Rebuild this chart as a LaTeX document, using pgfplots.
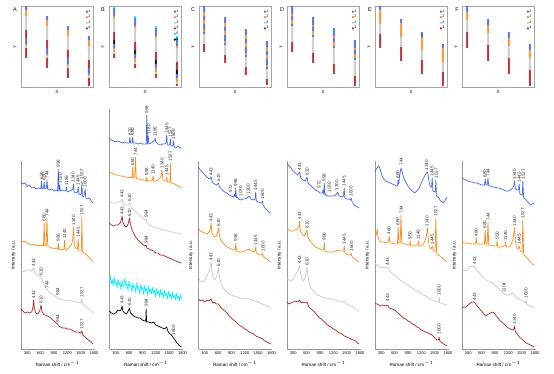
\documentclass[border=0pt]{standalone}
\usepackage{pgfplots}
\pgfplotsset{compat=1.18}
\usepackage{fontspec}
\setmainfont{Liberation Sans}
\definecolor{cb}{RGB}{68,102,245}
\definecolor{co}{RGB}{255,140,26}
\definecolor{cg}{RGB}{200,200,200}
\definecolor{cr}{RGB}{178,34,40}
\definecolor{cc}{RGB}{0,238,255}
\definecolor{ck}{RGB}{0,0,0}
\tikzset{pk/.style={rotate=90, anchor=west, inner sep=0.3pt, font=\fontsize{4.6}{5}\selectfont, text=black!80}}
\newcommand{\pk}[3]{\node[pk] at (axis cs:#1,-#2) {#3};}
\pgfplotsset{
  dotleg/.style={legend image code/.code={\draw[##1] plot coordinates {(1.5pt,0pt)};}},
  topax/.style={scale only axis, width=72pt, height=81pt, xmin=0.75, xmax=4.2, ymin=-87, ymax=-6,
    xtick=\empty, ytick=\empty, axis line style={black!35, line width=0.7pt}, anchor=south west,
    xlabel={X}, ylabel={Y},
    every axis x label/.style={at={(axis description cs:0.5,0)}, anchor=center, yshift=-5pt, font=\fontsize{4.5}{5}\selectfont},
    every axis y label/.style={at={(axis description cs:0,0.5)}, anchor=center, xshift=-6pt, rotate=90, font=\fontsize{4.5}{5}\selectfont},
    legend style={at={(axis description cs:0.98,0.97)}, anchor=north east, draw=none, fill=none,
      font=\fontsize{3.6}{4}\selectfont, row sep=0.6pt, inner sep=0.5pt, nodes={inner sep=0.5pt}},
    legend cell align=left,
    every axis plot/.append style={only marks, mark=*, mark size=0.95pt, dotleg}},
  specax/.style={scale only axis, width=73pt, xmin=160, xmax=1800, ymin=-349, anchor=south west,
    axis x line=bottom, axis y line=left, axis line style={-, black!40, line width=0.6pt},
    xtick={300,600,900,1200,1500,1800}, ytick=\empty, tick style={black!40}, major tick length=1pt, tick align=outside,
    /pgf/number format/1000 sep={}, /pgf/number format/assume math mode=true,
    xticklabel style={font=\fontsize{4}{4}\selectfont, inner sep=1pt},
    clip=false, no markers,
    every axis plot/.append style={line width=0.7pt, line join=round},
    xlabel={Raman shift / cm$^{-1}$}, ylabel={Intensity / a.u.},
    every axis x label/.style={at={(axis description cs:0.5,0)}, anchor=center, yshift=-14.5pt, font=\fontsize{4.6}{5}\selectfont},
    every axis y label/.style={at={(axis description cs:0,0.5)}, anchor=center, xshift=-7.5pt, rotate=90, font=\fontsize{4.6}{5}\selectfont}}
}
\begin{document}
\begin{tikzpicture}
\useasboundingbox (0pt,0pt) rectangle (554pt,-373pt);
%%%%%%%%%%%%%%%% TOP PANELS
% A
\begin{axis}[topax, at={(21pt,-87pt)}]
\addplot[cb] coordinates {(1,-7)(1,-9)(1,-39)(1,-41)(1,-43)(2,-17)(2,-19)(2,-49)(2,-51)(2,-53)(3,-27)(3,-29)(3,-59)(3,-61)(3,-63)(4,-37)(4,-39)(4,-69)(4,-71)(4,-73)};
\addplot[co] coordinates {(1,-11)(1,-13)(1,-15)(1,-45)(2,-21)(2,-23)(2,-25)(2,-55)(3,-31)(3,-33)(3,-35)(3,-65)(4,-41)(4,-43)(4,-45)(4,-75)};
\addplot[cg] coordinates {(1,-17)(1,-19)(1,-21)(1,-23)(1,-25)(1,-27)(1,-29)(1,-47)(2,-27)(2,-29)(2,-31)(2,-33)(2,-35)(2,-37)(2,-39)(2,-57)(3,-37)(3,-39)(3,-41)(3,-43)(3,-45)(3,-47)(3,-49)(3,-67)(4,-47)(4,-49)(4,-51)(4,-53)(4,-55)(4,-57)(4,-59)(4,-77)};
\addplot[cr] coordinates {(1,-31)(1,-33)(1,-35)(1,-37)(1,-49)(1,-51)(1,-53)(1,-55)(1,-57)(2,-41)(2,-43)(2,-45)(2,-47)(2,-59)(2,-61)(2,-63)(2,-65)(2,-67)(3,-51)(3,-53)(3,-55)(3,-57)(3,-69)(3,-71)(3,-73)(3,-75)(3,-77)(4,-61)(4,-63)(4,-65)(4,-67)(4,-79)(4,-81)(4,-83)(4,-85)};
\legend{1,2,3,4}
\end{axis}
% B
\begin{axis}[topax, at={(109pt,-87pt)}]
\addplot[cb] coordinates {(1,-9)(1,-11)(1,-13)(1,-15)(1,-45)(1,-47)(2,-19)(2,-21)(2,-23)(2,-25)(2,-55)(2,-57)(3,-29)(3,-31)(3,-33)(3,-35)(3,-65)(3,-67)(4,-39)(4,-41)(4,-43)(4,-45)(4,-75)(4,-77)};
\addplot[co] coordinates {(1,-17)(1,-49)(1,-51)(2,-27)(2,-59)(2,-61)(3,-37)(3,-69)(3,-71)(4,-47)(4,-79)(4,-81)};
\addplot[cg] coordinates {(1,-19)(1,-21)(1,-23)(1,-25)(1,-27)(1,-29)(1,-31)(1,-53)(2,-29)(2,-31)(2,-33)(2,-35)(2,-37)(2,-39)(2,-41)(2,-63)(3,-39)(3,-41)(3,-43)(3,-45)(3,-47)(3,-49)(3,-51)(3,-73)(4,-49)(4,-51)(4,-53)(4,-55)(4,-57)(4,-59)(4,-61)(4,-83)};
\addplot[cr] coordinates {(1,-33)(1,-35)(1,-37)(1,-39)(1,-55)(1,-57)(2,-43)(2,-45)(2,-47)(2,-49)(2,-65)(2,-67)(3,-53)(3,-55)(3,-57)(3,-59)(3,-75)(3,-77)(4,-63)(4,-65)(4,-67)(4,-69)(4,-85)};
\addplot[cc] coordinates {(1,-7)(2,-17)(3,-27)(4,-37)};
\addplot[ck] coordinates {(1,-41)(1,-43)(2,-51)(2,-53)(3,-61)(3,-63)(4,-71)(4,-73)};
\legend{1,2,3,4,5,6}
\end{axis}
% C
\begin{axis}[topax, at={(199pt,-87pt)}]
\addplot[cb] coordinates {(1,-7)(1,-9)(1,-11)(1,-17)(1,-19)(1,-25)(1,-27)(1,-29)(1,-33)(2,-18)(2,-20)(2,-22)(2,-28)(2,-30)(2,-36)(2,-38)(2,-40)(2,-44)(3,-30)(3,-32)(3,-34)(3,-40)(3,-42)(3,-48)(3,-50)(3,-52)(3,-56)(4,-42)(4,-44)(4,-46)(4,-52)(4,-54)(4,-60)(4,-62)(4,-64)(4,-68)};
\addplot[co] coordinates {(1,-13)(1,-15)(1,-21)(1,-23)(1,-31)(2,-24)(2,-26)(2,-32)(2,-34)(2,-42)(3,-36)(3,-38)(3,-44)(3,-46)(3,-54)(4,-48)(4,-50)(4,-56)(4,-58)(4,-66)};
\addplot[cg] coordinates {(1,-35)(1,-37)(1,-39)(1,-41)(1,-43)(2,-46)(2,-48)(2,-50)(2,-52)(2,-54)(3,-58)(3,-60)(3,-62)(3,-64)(3,-66)(4,-70)(4,-72)(4,-74)(4,-76)(4,-78)};
\addplot[cr] coordinates {(1,-45)(1,-47)(1,-49)(1,-51)(2,-56)(2,-58)(2,-60)(2,-62)(3,-68)(3,-70)(3,-72)(3,-74)(4,-80)(4,-82)(4,-84)};
\legend{1,2,3,4}
\end{axis}
% D
\begin{axis}[topax, at={(287pt,-87pt)}]
\addplot[cb] coordinates {(1,-7)(1,-9)(1,-11)(1,-13)(1,-17)(1,-19)(1,-25)(2,-18)(2,-20)(2,-22)(2,-24)(2,-28)(2,-30)(2,-36)(3,-29)(3,-31)(3,-33)(3,-35)(3,-39)(3,-41)(3,-47)(4,-41)(4,-43)(4,-45)(4,-47)(4,-51)(4,-53)(4,-59)};
\addplot[co] coordinates {(1,-15)(1,-21)(1,-23)(2,-26)(2,-32)(2,-34)(3,-37)(3,-43)(3,-45)(4,-49)(4,-55)(4,-57)};
\addplot[cg] coordinates {(1,-27)(1,-29)(1,-31)(1,-33)(1,-35)(1,-37)(1,-39)(1,-41)(2,-38)(2,-40)(2,-42)(2,-44)(2,-46)(2,-48)(2,-50)(2,-52)(3,-49)(3,-51)(3,-53)(3,-55)(3,-57)(3,-59)(3,-61)(3,-63)(4,-61)(4,-63)(4,-65)(4,-67)(4,-69)(4,-71)(4,-73)(4,-75)};
\addplot[cr] coordinates {(1,-43)(1,-45)(1,-47)(1,-49)(1,-51)(2,-54)(2,-56)(2,-58)(2,-60)(2,-62)(3,-65)(3,-67)(3,-69)(3,-71)(3,-73)(4,-77)(4,-79)(4,-81)(4,-83)(4,-85)};
\legend{1,2,3,4}
\end{axis}
% E
\begin{axis}[topax, at={(375pt,-87pt)}]
\addplot[cb] coordinates {(1,-7)(1,-9)(2,-20)(2,-22)(3,-33)(3,-37)(4,-45)(4,-47)};
\addplot[co] coordinates {(1,-11)(1,-13)(1,-15)(1,-17)(1,-19)(1,-21)(1,-23)(2,-24)(2,-26)(2,-28)(2,-30)(2,-32)(2,-34)(2,-36)(3,-39)(3,-41)(3,-43)(3,-45)(3,-47)(3,-49)(4,-49)(4,-51)(4,-53)(4,-55)(4,-57)(4,-59)(4,-61)};
\addplot[cg] coordinates {(1,-25)(1,-27)(1,-29)(1,-31)(1,-33)(2,-38)(2,-40)(2,-42)(2,-44)(2,-46)(3,-51)(3,-53)(3,-55)(3,-57)(3,-59)(4,-63)(4,-65)(4,-67)(4,-69)(4,-71)};
\addplot[cr] coordinates {(1,-35)(1,-37)(1,-39)(1,-41)(1,-43)(1,-45)(1,-47)(2,-48)(2,-50)(2,-52)(2,-54)(2,-56)(2,-58)(2,-60)(3,-35)(3,-61)(3,-63)(3,-65)(3,-67)(3,-69)(3,-71)(3,-73)(4,-73)(4,-75)(4,-77)(4,-79)(4,-81)(4,-83)(4,-85)};
\legend{1,2,3,4}
\end{axis}
% F
\begin{axis}[topax, at={(462pt,-87pt)}]
\addplot[cb] coordinates {(1,-7)(1,-9)(1,-11)(2,-20)(2,-22)(2,-24)(3,-33)(3,-35)(3,-37)(4,-45)(4,-47)(4,-49)};
\addplot[co] coordinates {(1,-13)(1,-15)(1,-17)(1,-19)(2,-26)(2,-28)(2,-30)(2,-32)(3,-39)(3,-41)(3,-43)(3,-45)(4,-51)(4,-53)(4,-55)(4,-57)};
\addplot[cg] coordinates {(1,-21)(1,-23)(1,-25)(1,-27)(1,-29)(1,-31)(2,-34)(2,-36)(2,-38)(2,-40)(2,-42)(2,-44)(3,-47)(3,-49)(3,-51)(3,-53)(3,-55)(3,-57)(4,-59)(4,-61)(4,-63)(4,-65)(4,-67)(4,-69)};
\addplot[cr] coordinates {(1,-33)(1,-35)(1,-37)(1,-39)(1,-41)(1,-43)(1,-45)(1,-47)(2,-46)(2,-48)(2,-50)(2,-52)(2,-54)(2,-56)(2,-58)(2,-60)(3,-59)(3,-61)(3,-63)(3,-65)(3,-67)(3,-69)(3,-71)(3,-73)(4,-71)(4,-73)(4,-75)(4,-77)(4,-79)(4,-81)(4,-83)(4,-85)};
\legend{1,2,3,4}
\end{axis}
%%%%%%%%%%%%%%%% SPECTRA
% A
\begin{axis}[specax, at={(21pt,-349pt)}, height=188pt, ymax=-161]
\addplot[cb] coordinates {(160,-182)(200,-184)(250,-183)(300,-186)(350,-185)(400,-188)(450,-187)(500,-189)(560,-188)(605,-189)(620,-181)(635,-189)(665,-188)(680,-182)(695,-189)(730,-188)(744,-180)(758,-189)(800,-190)(850,-189)(900,-191)(950,-190)(985,-191)(998,-169)(1012,-191)(1030,-185)(1045,-191)(1100,-190)(1150,-191)(1170,-190)(1185,-187)(1200,-192)(1250,-191)(1300,-190)(1325,-189)(1340,-184)(1355,-192)(1400,-193)(1430,-192)(1445,-187)(1460,-194)(1500,-195)(1515,-194)(1527,-181)(1540,-196)(1570,-197)(1600,-189)(1615,-198)(1650,-199)(1700,-198)(1740,-201)(1780,-203)};
\addplot[co] coordinates {(160,-240)(200,-242)(250,-241)(300,-243)(350,-244)(400,-245)(450,-244)(500,-246)(550,-245)(600,-246)(640,-245)(665,-246)(680,-223)(695,-246)(725,-245)(744,-218)(760,-246)(800,-247)(850,-248)(900,-249)(950,-248)(985,-249)(998,-243)(1012,-250)(1050,-249)(1100,-250)(1125,-249)(1140,-240)(1155,-250)(1200,-249)(1250,-247)(1300,-244)(1320,-240)(1340,-227)(1360,-246)(1400,-249)(1430,-249)(1445,-239)(1460,-251)(1500,-251)(1515,-251)(1527,-217)(1540,-252)(1580,-253)(1620,-254)(1660,-256)(1700,-258)(1740,-260)(1780,-262)};
\addplot[cg] coordinates {(160,-270)(200,-272)(250,-271)(300,-270)(350,-270)(400,-271)(443,-268)(470,-273)(520,-275)(570,-276)(610,-277)(640,-281)(700,-286)(744,-290)(770,-291)(800,-292)(850,-294)(900,-295)(950,-297)(984,-297)(1000,-299)(1050,-299)(1100,-300)(1150,-300)(1200,-301)(1250,-300)(1300,-301)(1350,-301)(1400,-302)(1450,-302)(1500,-303)(1527,-299)(1545,-304)(1600,-306)(1650,-308)(1700,-309)(1740,-311)(1780,-313)};
\addplot[cr] coordinates {(160,-309)(200,-311)(250,-313)(300,-312)(350,-313)(400,-312)(425,-308)(443,-300)(460,-308)(490,-313)(540,-314)(580,-311)(610,-305)(630,-311)(660,-314)(700,-315)(750,-316)(800,-317)(850,-319)(900,-321)(950,-323)(984,-324)(1000,-326)(1050,-327)(1100,-328)(1150,-328)(1200,-329)(1250,-329)(1300,-330)(1350,-331)(1400,-332)(1450,-332)(1500,-333)(1527,-331)(1545,-335)(1600,-337)(1650,-339)(1700,-341)(1740,-342)(1780,-344)};
\pk{620}{180}{620}\pk{680}{181}{680}\pk{744}{179}{744}\pk{998}{168}{998}\pk{1040}{184}{1030}\pk{1185}{186}{1185}\pk{1330}{183}{1340}\pk{1440}{186}{1445}\pk{1527}{180}{1527}\pk{1600}{188}{1600}
\pk{680}{222}{680}\pk{744}{217}{744}\pk{998}{242}{998}\pk{1140}{239}{1140}\pk{1340}{226}{1340}\pk{1445}{238}{1445}\pk{1527}{216}{1527}
\pk{443}{267}{443}\pk{610}{276}{610}\pk{744}{289}{744}\pk{984}{296}{984}\pk{1527}{298}{1527}
\pk{443}{299}{443}\pk{610}{304}{610}\pk{984}{323}{984}\pk{1527}{330}{1527}
\end{axis}
% B
\begin{axis}[specax, at={(109.5pt,-349pt)}, height=240pt, ymax=-109, ylabel={}]
\addplot[cb] coordinates {(160,-138)(200,-140)(250,-141)(300,-142)(350,-141)(400,-142)(450,-143)(500,-142)(550,-143)(605,-143)(620,-137)(635,-143)(665,-143)(680,-137)(695,-143)(750,-143)(800,-144)(850,-143)(900,-144)(950,-144)(985,-144)(998,-115)(1012,-144)(1030,-136)(1045,-144)(1100,-143)(1150,-141)(1170,-141)(1185,-138)(1200,-142)(1250,-144)(1300,-145)(1350,-144)(1400,-144)(1430,-143)(1445,-135)(1460,-145)(1500,-145)(1515,-145)(1527,-139)(1540,-146)(1580,-146)(1600,-141)(1615,-147)(1650,-148)(1700,-146)(1740,-148)(1780,-148)};
\addplot[co] coordinates {(160,-171)(200,-173)(250,-174)(300,-175)(350,-175)(400,-176)(450,-176)(500,-177)(550,-177)(600,-178)(640,-177)(665,-178)(680,-167)(695,-178)(725,-178)(744,-157)(760,-178)(800,-179)(850,-179)(900,-180)(950,-180)(985,-181)(998,-177)(1012,-181)(1050,-181)(1100,-181)(1125,-180)(1140,-176)(1155,-181)(1200,-181)(1250,-180)(1300,-178)(1320,-176)(1340,-170)(1360,-180)(1400,-181)(1430,-181)(1445,-177)(1460,-182)(1500,-182)(1515,-182)(1527,-163)(1540,-183)(1580,-183)(1620,-184)(1660,-185)(1700,-186)(1740,-187)(1780,-188)};
\addplot[cg] coordinates {(160,-201)(200,-203)(250,-203)(300,-203)(350,-202)(400,-202)(443,-199)(470,-204)(520,-205)(570,-205)(610,-203)(640,-207)(700,-210)(750,-212)(800,-214)(850,-216)(900,-218)(950,-220)(984,-219)(1000,-223)(1050,-225)(1100,-226)(1150,-227)(1200,-228)(1250,-228)(1300,-229)(1350,-230)(1400,-230)(1450,-231)(1500,-231)(1550,-232)(1600,-232)(1650,-233)(1700,-233)(1780,-234)};
\addplot[cr] coordinates {(160,-223)(200,-225)(250,-226)(300,-225)(350,-225)(400,-223)(425,-220)(443,-216)(460,-222)(500,-226)(540,-227)(580,-224)(610,-218)(630,-224)(660,-229)(700,-233)(750,-237)(800,-240)(850,-242)(900,-244)(950,-246)(984,-245)(1000,-248)(1050,-249)(1100,-250)(1150,-251)(1200,-253)(1250,-253)(1300,-255)(1350,-255)(1400,-256)(1450,-257)(1500,-258)(1550,-259)(1600,-260)(1650,-261)(1700,-262)(1780,-263)};
\addplot[cc, line width=0.6pt] coordinates {(160,-280)(180,-276)(200,-284)(220,-279)(240,-286)(265,-277)(285,-283)(305,-281)(330,-288)(350,-279)(375,-285)(395,-282)(420,-290)(440,-280)(460,-284)(485,-287)(505,-278)(530,-286)(550,-283)(575,-291)(595,-281)(620,-287)(640,-284)(665,-292)(685,-283)(705,-288)(730,-286)(750,-293)(775,-282)(795,-289)(820,-287)(840,-294)(865,-284)(885,-290)(905,-287)(930,-295)(950,-285)(975,-291)(995,-288)(1020,-296)(1040,-286)(1060,-292)(1085,-289)(1105,-294)(1130,-287)(1150,-293)(1175,-290)(1195,-297)(1220,-288)(1240,-294)(1265,-291)(1285,-297)(1310,-289)(1330,-295)(1355,-292)(1375,-298)(1400,-290)(1420,-296)(1445,-293)(1465,-299)(1490,-291)(1510,-297)(1535,-294)(1555,-299)(1580,-292)(1600,-298)(1625,-295)(1645,-300)(1670,-293)(1690,-299)(1715,-296)(1735,-301)(1760,-294)(1780,-299)};
\addplot[ck] coordinates {(160,-311)(200,-313)(250,-314)(300,-313)(350,-310)(400,-311)(425,-309)(443,-306)(460,-311)(500,-313)(540,-314)(580,-311)(610,-308)(630,-313)(660,-314)(700,-316)(750,-317)(800,-318)(850,-318)(900,-320)(950,-321)(975,-321)(984,-309)(993,-322)(1050,-322)(1100,-323)(1150,-322)(1200,-325)(1250,-326)(1300,-327)(1350,-328)(1400,-329)(1445,-327)(1470,-331)(1500,-333)(1550,-335)(1600,-338)(1630,-340)(1660,-342)(1700,-344)(1740,-346)(1780,-347)};
\pk{620}{136}{620}\pk{680}{136}{680}\pk{998}{114}{998}\pk{1040}{135}{1030}\pk{1185}{137}{1185}\pk{1445}{134}{1445}\pk{1527}{138}{1527}\pk{1600}{140}{1600}
\pk{680}{166}{680}\pk{744}{156}{744}\pk{998}{176}{998}\pk{1140}{175}{1140}\pk{1340}{169}{1340}\pk{1445}{176}{1445}\pk{1527}{162}{1527}
\pk{443}{198}{443}\pk{610}{202}{610}\pk{984}{218}{984}
\pk{443}{215}{443}\pk{610}{217}{610}\pk{984}{244}{984}
\pk{443}{304}{443}\pk{610}{306}{610}\pk{984}{307}{984}\pk{1600}{336}{1600}
\end{axis}
% C
\begin{axis}[specax, at={(198.5pt,-349pt)}, height=188pt, ymax=-161]
\addplot[cb] coordinates {(160,-167)(200,-170)(250,-172)(300,-175)(350,-177)(400,-179)(443,-177)(470,-182)(520,-184)(570,-185)(610,-183)(630,-187)(700,-190)(750,-192)(800,-193)(850,-195)(900,-196)(950,-197)(972,-194)(985,-197)(998,-188)(1012,-198)(1030,-197)(1060,-199)(1100,-200)(1150,-199)(1200,-199)(1250,-198)(1300,-196)(1330,-199)(1400,-200)(1430,-199)(1445,-192)(1460,-201)(1500,-202)(1550,-203)(1585,-203)(1600,-201)(1615,-205)(1650,-208)(1700,-210)(1740,-212)(1780,-213)};
\addplot[co] coordinates {(160,-228)(200,-231)(250,-232)(300,-233)(350,-234)(400,-232)(425,-229)(443,-223)(460,-233)(500,-236)(550,-237)(580,-234)(610,-228)(630,-236)(660,-240)(700,-242)(750,-245)(800,-247)(850,-248)(900,-249)(950,-250)(985,-250)(998,-243)(1012,-251)(1050,-252)(1100,-252)(1150,-252)(1200,-251)(1250,-250)(1300,-249)(1350,-251)(1400,-252)(1430,-251)(1445,-247)(1460,-253)(1500,-254)(1550,-255)(1585,-255)(1600,-253)(1615,-256)(1650,-258)(1700,-259)(1740,-261)(1780,-262)};
\addplot[cg] coordinates {(160,-278)(200,-281)(250,-282)(300,-280)(350,-276)(400,-271)(425,-266)(443,-262)(460,-270)(490,-278)(530,-280)(570,-276)(610,-268)(630,-276)(660,-283)(700,-287)(750,-290)(800,-292)(850,-294)(900,-295)(950,-296)(1000,-297)(1050,-297)(1100,-298)(1150,-298)(1200,-299)(1250,-298)(1300,-299)(1350,-300)(1400,-301)(1450,-301)(1500,-302)(1550,-303)(1600,-304)(1650,-305)(1700,-306)(1780,-308)};
\addplot[cr] coordinates {(160,-299)(200,-301)(250,-300)(300,-302)(350,-300)(400,-301)(443,-299)(480,-303)(520,-302)(560,-304)(610,-304)(650,-307)(700,-309)(750,-311)(800,-313)(850,-316)(900,-318)(950,-320)(1000,-322)(1050,-324)(1100,-326)(1150,-327)(1200,-329)(1250,-330)(1300,-332)(1350,-333)(1400,-334)(1450,-336)(1500,-337)(1550,-338)(1600,-339)(1650,-341)(1700,-342)(1740,-343)(1780,-344)};
\pk{443}{176}{443}\pk{610}{182}{610}\pk{880}{193}{972}\pk{990}{187}{998}\pk{1110}{197}{1030}\pk{1280}{195}{1300}\pk{1440}{191}{1445}\pk{1600}{200}{1600}
\pk{443}{222}{443}\pk{610}{227}{610}\pk{998}{242}{998}\pk{1445}{246}{1445}\pk{1610}{252}{1600}
\pk{443}{261}{443}\pk{610}{267}{610}
\end{axis}
% D
\begin{axis}[specax, at={(287pt,-349pt)}, height=188pt, ymax=-161]
\addplot[cb] coordinates {(160,-163)(200,-166)(250,-168)(300,-171)(350,-173)(400,-175)(443,-172)(470,-178)(520,-180)(570,-181)(610,-177)(630,-183)(700,-186)(750,-188)(800,-190)(850,-191)(900,-193)(950,-193)(972,-190)(985,-194)(998,-183)(1012,-195)(1030,-194)(1060,-196)(1100,-196)(1150,-196)(1200,-196)(1250,-195)(1300,-192)(1330,-196)(1400,-197)(1430,-196)(1445,-188)(1460,-198)(1500,-199)(1550,-199)(1585,-200)(1600,-198)(1615,-201)(1650,-204)(1700,-206)(1740,-207)(1780,-208)};
\addplot[co] coordinates {(160,-228)(200,-230)(250,-231)(300,-231)(350,-230)(400,-229)(425,-227)(443,-221)(460,-231)(500,-234)(550,-236)(580,-233)(610,-230)(630,-237)(660,-240)(700,-242)(750,-245)(800,-247)(850,-248)(900,-249)(950,-250)(985,-250)(998,-242)(1012,-251)(1050,-252)(1100,-252)(1150,-252)(1200,-252)(1250,-251)(1300,-250)(1350,-251)(1400,-251)(1430,-251)(1445,-246)(1460,-253)(1500,-254)(1550,-255)(1585,-255)(1600,-253)(1615,-256)(1650,-258)(1700,-259)(1740,-261)(1780,-262)};
\addplot[cg] coordinates {(160,-278)(200,-280)(250,-281)(300,-279)(350,-275)(400,-271)(425,-268)(443,-265)(460,-272)(490,-279)(530,-281)(570,-277)(610,-267)(630,-276)(660,-284)(700,-288)(750,-291)(800,-293)(850,-295)(900,-296)(950,-297)(1000,-298)(1050,-298)(1100,-299)(1150,-299)(1200,-300)(1250,-300)(1300,-301)(1350,-301)(1400,-302)(1450,-302)(1500,-304)(1550,-305)(1600,-306)(1650,-307)(1700,-309)(1780,-312)};
\addplot[cr] coordinates {(160,-302)(200,-304)(250,-303)(300,-302)(350,-301)(400,-302)(443,-300)(480,-303)(520,-302)(560,-303)(610,-302)(650,-307)(700,-309)(750,-311)(800,-313)(850,-316)(900,-318)(950,-320)(1000,-322)(1050,-324)(1100,-326)(1150,-327)(1200,-329)(1250,-330)(1300,-332)(1350,-333)(1400,-334)(1450,-336)(1500,-337)(1550,-338)(1600,-339)(1650,-340)(1700,-341)(1740,-343)(1780,-344)};
\pk{443}{171}{443}\pk{610}{176}{610}\pk{880}{189}{972}\pk{990}{182}{998}\pk{1110}{193}{1030}\pk{1280}{191}{1300}\pk{1440}{187}{1445}\pk{1600}{197}{1600}
\pk{443}{220}{443}\pk{610}{229}{610}\pk{998}{241}{998}\pk{1445}{245}{1445}\pk{1610}{252}{1600}
\pk{443}{264}{443}\pk{610}{266}{610}
\end{axis}
% E
\begin{axis}[specax, at={(375pt,-349pt)}, height=188pt, ymax=-161]
\addplot[cb] coordinates {(160,-172)(190,-169)(220,-167)(250,-166)(280,-170)(320,-176)(360,-179)(400,-181)(450,-182)(500,-183)(550,-184)(600,-185)(640,-186)(665,-186)(680,-180)(695,-184)(710,-176)(744,-168)(770,-172)(800,-177)(850,-182)(900,-186)(950,-189)(1000,-191)(1050,-193)(1100,-191)(1150,-188)(1200,-183)(1250,-178)(1300,-174)(1340,-172)(1370,-180)(1400,-187)(1430,-187)(1445,-178)(1460,-191)(1500,-192)(1515,-191)(1527,-180)(1540,-196)(1580,-197)(1620,-200)(1660,-202)(1700,-203)(1740,-200)(1780,-197)};
\addplot[co] coordinates {(160,-233)(190,-235)(210,-229)(230,-238)(270,-241)(300,-242)(350,-242)(400,-243)(450,-242)(465,-241)(480,-236)(495,-243)(550,-243)(600,-244)(650,-244)(665,-244)(680,-227)(695,-243)(725,-243)(744,-215)(760,-243)(800,-244)(850,-244)(900,-245)(935,-245)(950,-241)(965,-246)(1000,-246)(1050,-246)(1100,-245)(1125,-245)(1140,-241)(1155,-246)(1200,-246)(1250,-244)(1300,-239)(1320,-234)(1340,-228)(1360,-240)(1380,-247)(1420,-249)(1445,-246)(1470,-251)(1510,-251)(1527,-218)(1545,-254)(1580,-255)(1620,-256)(1660,-258)(1700,-259)(1740,-261)(1780,-262)};
\addplot[cg] coordinates {(160,-263)(200,-265)(250,-266)(300,-268)(350,-267)(400,-268)(443,-267)(480,-271)(550,-273)(600,-275)(650,-277)(700,-279)(750,-281)(800,-282)(850,-284)(900,-285)(950,-287)(1000,-288)(1050,-290)(1100,-291)(1150,-292)(1200,-294)(1250,-295)(1300,-296)(1350,-298)(1400,-299)(1450,-300)(1500,-301)(1550,-302)(1585,-302)(1600,-297)(1615,-303)(1650,-303)(1700,-304)(1780,-305)};
\addplot[cr] coordinates {(160,-303)(200,-304)(250,-305)(300,-306)(350,-305)(400,-306)(443,-305)(480,-308)(550,-309)(600,-310)(650,-312)(700,-314)(750,-316)(800,-318)(850,-319)(900,-321)(950,-322)(1000,-324)(1050,-325)(1100,-327)(1150,-328)(1200,-330)(1250,-331)(1300,-332)(1350,-333)(1400,-334)(1450,-335)(1500,-338)(1550,-340)(1585,-340)(1600,-337)(1615,-341)(1650,-342)(1700,-344)(1780,-346)};
\pk{670}{179}{680}\pk{750}{166}{744}\pk{1320}{171}{1340}\pk{1440}{177}{1445}\pk{1535}{179}{1527}
\pk{475}{235}{480}\pk{670}{226}{680}\pk{748}{214}{744}\pk{945}{240}{950}\pk{1135}{240}{1140}\pk{1330}{227}{1340}\pk{1445}{245}{1445}\pk{1527}{217}{1527}
\pk{443}{266}{443}\pk{1600}{296}{1600}
\pk{443}{302}{443}\pk{1600}{335}{1600}
\end{axis}
% F
\begin{axis}[specax, at={(462pt,-349pt)}, height=188pt, ymax=-161]
\addplot[cb] coordinates {(160,-178)(200,-179)(250,-180)(300,-181)(350,-182)(400,-182)(450,-183)(500,-183)(550,-184)(600,-185)(640,-185)(665,-185)(680,-179)(695,-185)(725,-185)(744,-178)(760,-186)(800,-186)(850,-187)(900,-187)(950,-188)(1000,-188)(1050,-189)(1100,-190)(1150,-191)(1200,-191)(1250,-190)(1300,-188)(1320,-186)(1340,-181)(1360,-189)(1400,-190)(1430,-190)(1445,-184)(1460,-194)(1500,-195)(1515,-195)(1527,-181)(1545,-198)(1580,-199)(1620,-201)(1660,-203)(1700,-205)(1740,-204)(1780,-203)};
\addplot[co] coordinates {(160,-242)(200,-243)(250,-243)(300,-243)(350,-244)(400,-244)(450,-244)(465,-243)(480,-238)(495,-244)(550,-244)(600,-244)(650,-244)(665,-244)(680,-230)(695,-244)(725,-244)(744,-222)(760,-245)(800,-245)(850,-246)(900,-246)(935,-246)(950,-241)(965,-247)(1000,-247)(1050,-247)(1100,-246)(1125,-246)(1140,-242)(1155,-247)(1200,-247)(1250,-246)(1300,-240)(1320,-235)(1340,-228)(1360,-241)(1380,-247)(1420,-249)(1445,-246)(1470,-251)(1510,-252)(1527,-220)(1545,-255)(1580,-256)(1620,-258)(1660,-260)(1700,-262)(1740,-264)(1780,-265)};
\addplot[cg] coordinates {(160,-268)(200,-270)(250,-271)(300,-268)(350,-266)(400,-267)(443,-266)(480,-270)(550,-273)(600,-276)(650,-278)(700,-280)(750,-281)(800,-282)(850,-283)(900,-285)(950,-287)(1000,-290)(1050,-292)(1104,-294)(1150,-295)(1200,-295)(1250,-294)(1300,-293)(1350,-296)(1400,-298)(1450,-299)(1500,-301)(1550,-302)(1585,-303)(1600,-300)(1615,-304)(1650,-305)(1700,-306)(1780,-308)};
\addplot[cr] coordinates {(160,-308)(200,-307)(250,-307)(300,-305)(350,-303)(400,-302)(443,-302)(480,-305)(520,-307)(560,-309)(600,-311)(650,-314)(700,-316)(750,-314)(800,-313)(850,-312)(900,-314)(950,-317)(1000,-320)(1050,-322)(1100,-324)(1150,-326)(1200,-328)(1250,-329)(1300,-330)(1325,-329)(1340,-326)(1355,-331)(1400,-334)(1450,-337)(1500,-339)(1550,-341)(1600,-343)(1650,-344)(1700,-345)(1780,-347)};
\pk{670}{178}{680}\pk{750}{177}{744}\pk{1340}{180}{1340}\pk{1445}{183}{1445}\pk{1535}{180}{1527}
\pk{480}{237}{480}\pk{670}{229}{680}\pk{750}{221}{744}\pk{950}{240}{950}\pk{1140}{241}{1140}\pk{1340}{227}{1340}\pk{1445}{245}{1445}\pk{1527}{219}{1527}
\pk{443}{265}{443}\pk{1104}{293}{1104}\pk{1600}{299}{1600}
\pk{443}{301}{443}\pk{1340}{325}{1340}
\end{axis}
%%%%%%%%%%%%%%%% panel letters
\foreach \L/\xx in {A/15,B/103,C/193,D/282,E/370,F/457}{
  \node[font=\fontsize{5.5}{6}\selectfont] at (\xx pt,-10pt) {\L};
}
\end{tikzpicture}
\end{document}
